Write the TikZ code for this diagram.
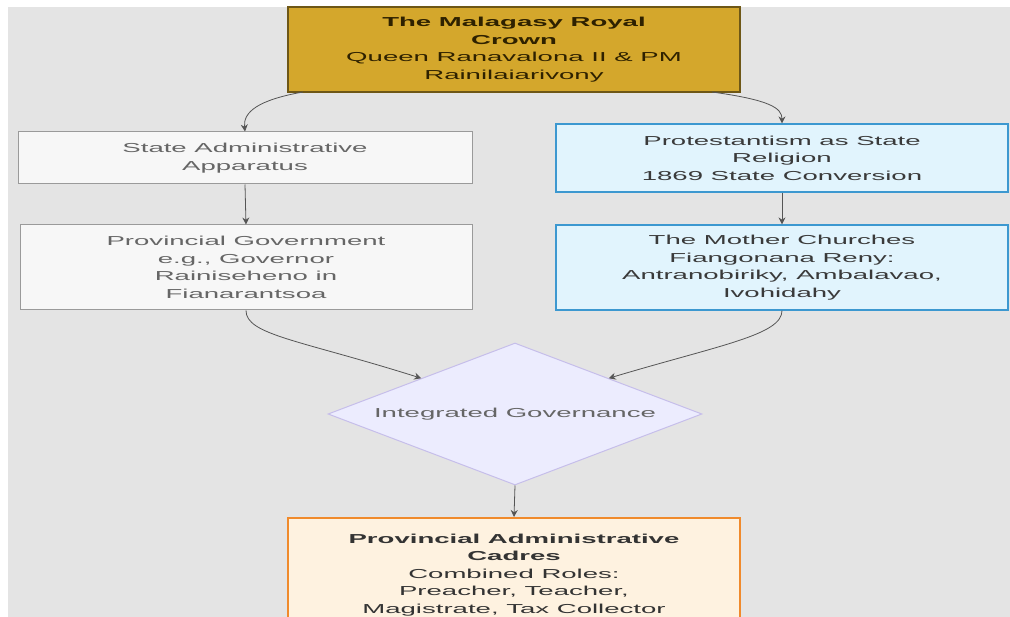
\documentclass[tikz,border=0pt]{standalone}
\usepackage{fontspec}
\setmainfont{Liberation Sans}[FakeStretch=2.12]
\usetikzlibrary{shapes.geometric,arrows.meta}
\definecolor{bg}{HTML}{E4E4E4}
\definecolor{gold}{HTML}{D4A72C}
\definecolor{goldline}{HTML}{6E5716}
\definecolor{goldtext}{HTML}{2E2100}
\definecolor{grayfill}{HTML}{F7F7F7}
\definecolor{grayline}{HTML}{9A9A9A}
\definecolor{graytext}{HTML}{666666}
\definecolor{bluefill}{HTML}{E1F4FD}
\definecolor{blueline}{HTML}{3C98D0}
\definecolor{bluetext}{HTML}{3A3A3A}
\definecolor{lavfill}{HTML}{ECECFE}
\definecolor{lavline}{HTML}{C6BEEA}
\definecolor{orfill}{HTML}{FEF2E0}
\definecolor{orline}{HTML}{F08A2C}
\definecolor{edge}{HTML}{555555}
\tikzset{
  base/.style={rectangle, inner sep=0pt, align=center, font=\fontsize{13}{17.5}\selectfont},
  crownbox/.style={base, fill=gold, draw=goldline, line width=1.2pt, text=goldtext},
  graybox/.style={base, fill=grayfill, draw=grayline, line width=1pt, text=graytext},
  bluebox/.style={base, fill=bluefill, draw=blueline, line width=1.2pt, text=bluetext},
  decision/.style={diamond, aspect=2.634, inner sep=0pt, fill=lavfill, draw=lavline, line width=1pt, text=graytext, font=\fontsize{13}{17.5}\selectfont},
  cadrebox/.style={base, fill=orfill, draw=orline, line width=2pt, text=black!80},
  conn/.style={draw=edge, line width=0.8pt, -{Stealth[length=7pt,width=7pt]}}
}
\begin{document}
\begin{tikzpicture}[x=1pt,y=-1pt]
\clip (0,0) rectangle (1010,617);
\fill[white] (0,0) rectangle (1010,617);
\fill[bg] (8,7) rectangle (1010,617);

\node[crownbox, minimum width=452pt, minimum height=85pt] (cr) at (514,49.5)
  {\textbf{The Malagasy Royal}\\\textbf{Crown}\\Queen Ranavalona II \& PM\\Rainilaiarivony};
\node[graybox, minimum width=454pt, minimum height=52pt] (sa) at (245,158)
  {State Administrative\\Apparatus};
\node[graybox, minimum width=452pt, minimum height=85pt] (pg) at (246,267.5)
  {Provincial Government\\e.g., Governor\\Rainiseheno in\\Fianarantsoa};
\node[bluebox, minimum width=452pt, minimum height=68pt] (pr) at (782,158)
  {Protestantism as State\\Religion\\1869 State Conversion};
\node[bluebox, minimum width=452pt, minimum height=85pt] (mc) at (782,267.5)
  {The Mother Churches\\Fiangonana Reny:\\Antranobiriky, Ambalavao,\\Ivohidahy};
\node[decision, minimum width=374pt, minimum height=142pt] (dia) at (515,414)
  {Integrated Governance};
\node[cadrebox, minimum width=452pt, minimum height=114pt] (cd) at (514,575)
  {\textbf{Provincial Administrative}\\\textbf{Cadres}\\Combined Roles:\\Preacher, Teacher,\\Magistrate, Tax Collector};

\coordinate (c1) at (303,92);
\coordinate (c2) at (712,92);
\draw[conn] (c1) .. controls (258,100) and (243,112) .. (sa.north);
\draw[conn] (c2) .. controls (770,100) and (782,108) .. (pr.north);
\draw[conn] (sa.south) -- (pg.north);
\draw[conn] (pr.south) -- (mc.north);
\draw[conn] (pg.south) .. controls (246,335) and (300,340) .. (dia.north west);
\draw[conn] (mc.south) .. controls (782,335) and (720,345) .. (dia.north east);
\draw[conn] (dia.south) -- (cd.north);
\end{tikzpicture}
\end{document}
